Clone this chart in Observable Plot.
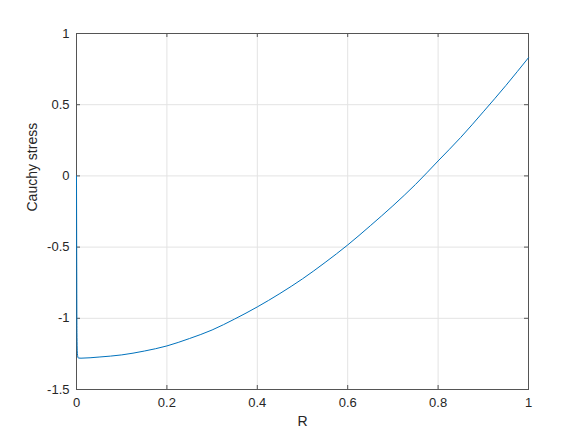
<!DOCTYPE html>
<html>
<head>
<meta charset="utf-8">
<script src="https://cdn.jsdelivr.net/npm/d3@7"></script>
<script src="https://cdn.jsdelivr.net/npm/@observablehq/plot@0.6"></script>
<style>
  html, body { margin: 0; padding: 0; background: #fff; }
  svg { display: block; }
</style>
</head>
<body>
<div id="chart"></div>
<script>
const rValues = [0, 0.0005, 0.001, 0.002, 0.004, 0.01, 0.05, 0.1, 0.15, 0.2, 0.25, 0.3, 0.35, 0.4, 0.45, 0.5, 0.55, 0.6, 0.65, 0.7, 0.75, 0.8, 0.85, 0.9, 0.95, 1.0];
const stressValues = [0, -0.6, -1.1, -1.25, -1.279, -1.28, -1.272, -1.257, -1.23, -1.194, -1.142, -1.082, -1.005, -0.92, -0.826, -0.723, -0.608, -0.485, -0.35, -0.21, -0.06, 0.105, 0.27, 0.45, 0.635, 0.83];
const xTicks = [0, 0.2, 0.4, 0.6, 0.8, 1];
const yTicks = [-1.5, -1, -0.5, 0, 0.5, 1];
const xTickLabels = ["0", "0.2", "0.4", "0.6", "0.8", "1"];
const yTickLabels = ["-1.5", "-1", "-0.5", "0", "0.5", "1"];

const data = rValues.map((r, i) => ({r, s: stressValues[i]}));

const W = 584, H = 438;
const mL = 76, mR = 56, mT = 33, mB = 49;
const pw = W - mL - mR, ph = H - mT - mB;
const font = "Liberation Sans, Arial, Helvetica, sans-serif";
const frameColor = "#555555";

const chart = Plot.plot({
  width: W, height: H,
  marginLeft: mL, marginRight: mR, marginTop: mT, marginBottom: mB,
  style: {fontFamily: font, fontSize: "13px", color: "#333", background: "#fff"},
  x: {domain: [0, 1], label: null},
  y: {domain: [-1.5, 1], label: null},
  marks: [
    Plot.ruleX(xTicks, {stroke: "#e3e3e3", strokeWidth: 1}),
    Plot.ruleY(yTicks, {stroke: "#e3e3e3", strokeWidth: 1}),
    Plot.frame({stroke: frameColor, strokeWidth: 1}),
    Plot.tickX(xTicks, {x: d => d, insetTop: ph - 4, stroke: frameColor}),
    Plot.tickX(xTicks, {x: d => d, insetBottom: ph - 4, stroke: frameColor}),
    Plot.tickY(yTicks, {y: d => d, insetRight: pw - 4, stroke: frameColor}),
    Plot.tickY(yTicks, {y: d => d, insetLeft: pw - 4, stroke: frameColor}),
    Plot.line(data, {x: "r", y: "s", stroke: "#0072bd", strokeWidth: 1, curve: "monotone-x"}),
    Plot.axisX(xTicks, {tickSize: 0, tickPadding: 8, tickFormat: (d, i) => xTickLabels[i], fontSize: 13, fill: "#262626", label: null}),
    Plot.axisY(yTicks, {tickSize: 0, tickPadding: 7, tickFormat: (d, i) => yTickLabels[i], fontSize: 13, fill: "#262626", label: null}),
    Plot.text(["R"], {x: 0.5, frameAnchor: "bottom", dy: 36, text: d => d, fontSize: 14, fill: "#262626"}),
    Plot.text(["Cauchy stress"], {y: -0.25, frameAnchor: "left", dx: -44, rotate: -90, text: d => d, fontSize: 14, fill: "#262626"})
  ]
});
document.getElementById("chart").appendChild(chart);
</script>
</body>
</html>
